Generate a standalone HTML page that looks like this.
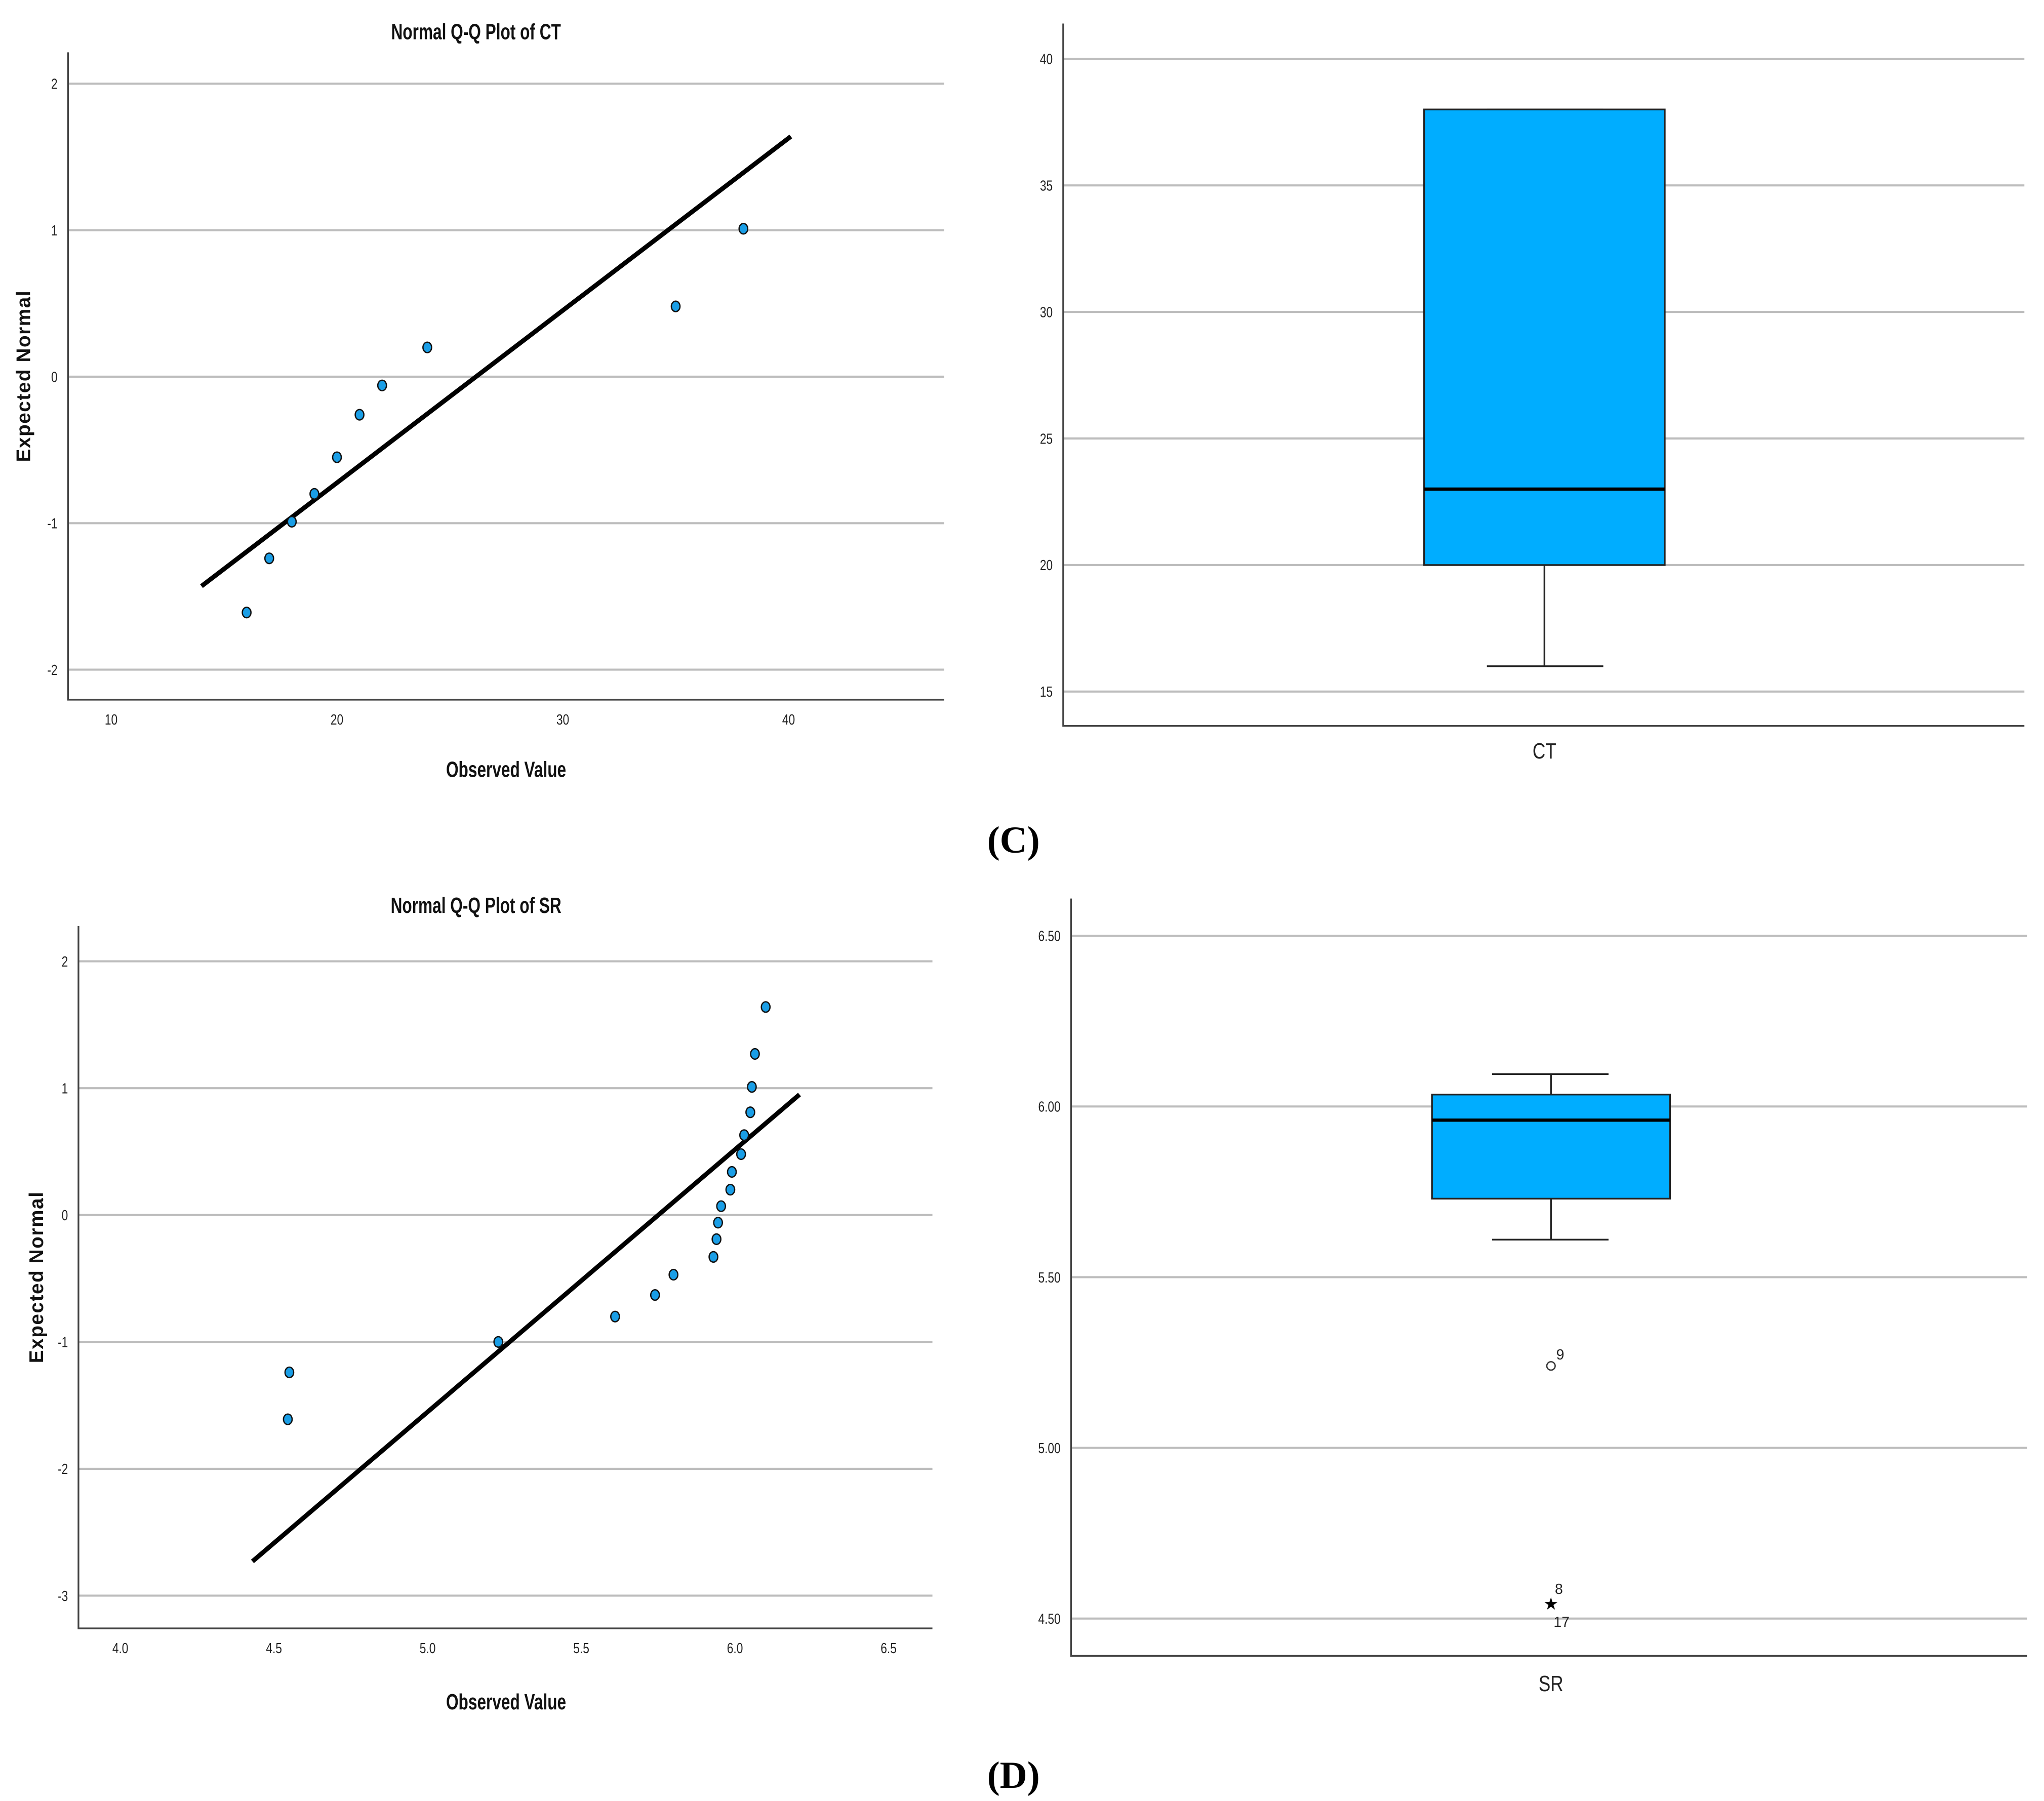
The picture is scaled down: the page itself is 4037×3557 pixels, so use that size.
<!DOCTYPE html>
<html><head><meta charset="utf-8"><style>
html,body{margin:0;padding:0;background:#fff;}
svg{display:block;}
</style></head><body>
<svg id="s" width="4037" height="3557" viewBox="0 0 1563 1377" preserveAspectRatio="none" xmlns="http://www.w3.org/2000/svg" font-family="Liberation Sans, sans-serif">
<rect width="1563" height="1377" fill="#fff"/>
</svg>
<script>
// ---- data ----
const ctObs = [16,17,18,19,20,21,22,24,35,38];
const ctExp = [-1.61,-1.24,-0.99,-0.80,-0.55,-0.26,-0.06,0.20,0.48,1.01];
const ctLineX = [14,40.1];
const ctLineY = [-1.43,1.64];
const ctXTicks = [10,20,30,40];
const ctYTicks = [2,1,0,-1,-2];
const srObs = [4.55,4.545,5.23,5.61,5.74,5.80,5.93,5.94,5.945,5.955,5.985,5.99,6.02,6.03,6.05,6.055,6.065,6.10];
const srExp = [-1.24,-1.61,-1.00,-0.80,-0.63,-0.47,-0.33,-0.19,-0.06,0.07,0.20,0.34,0.48,0.63,0.81,1.01,1.27,1.64];
const srLineX = [4.43,6.21];
const srLineY = [-2.73,0.95];
const srXTicks = ["4.0","4.5","5.0","5.5","6.0","6.5"];
const srYTicks = [2,1,0,-1,-2,-3];
const ctBox = [16,20,23,38,38]; // min,q1,median,q3,max
const ctBoxTicks = [40,35,30,25,20,15];
const srBox = [5.61,5.73,5.96,6.035,6.095];
const srBoxTicks = ["6.50","6.00","5.50","5.00","4.50"];
const srOutlier = [5.24];
const srOutlierLabel = ["9"];
const srExtreme = [4.545];
const srExtremeLabel = ["8","17"];

const S = document.getElementById('s');
const NS = 'http://www.w3.org/2000/svg';
function mk(tag, attrs, txt){const e=document.createElementNS(NS,tag);for(const k in attrs)e.setAttribute(k,attrs[k]);if(txt!==undefined)e.textContent=txt;S.appendChild(e);return e;}
function lin(d0,d1,r0,r1){return v=>r0+(v-d0)*(r1-r0)/(d1-d0);}

function qq(cfg){
  const {xs,ys,L,R,T,B,obs,exp,lx,ly,xt,yt,title,titleY,xlabY,ylabX,pre} = cfg;
  for(const t of yt){
    const y=ys(+t);
    const g=mk('line',{x1:L,x2:R,y1:y,y2:y,stroke:'#bdbdbd','stroke-width':1.6});
     
    const tl=mk('text',{x:L-8,y:y+4,'font-size':11,'text-anchor':'end',fill:'#222',transform:`translate(${L-8},0) scale(0.8,1) translate(${-(L-8)},0)`},t);
     
  }
  for(const t of xt){
    const x=xs(+t);
    const tl=mk('text',{x:x,y:B+19,'font-size':11,'text-anchor':'middle',fill:'#222',transform:`translate(${x},0) scale(0.8,1) translate(${-x},0)`},t);
     
  }
  const ax=mk('polyline',{points:`${L},${T} ${L},${B} ${R},${B}`,fill:'none',stroke:'#444','stroke-width':1.3});
   
  const ln=mk('line',{x1:xs(lx[0]),y1:ys(ly[0]),x2:xs(lx[1]),y2:ys(ly[1]),stroke:'#000','stroke-width':3.5});
   
  for(let i=0;i<obs.length;i++){
    const c=mk('ellipse',{cx:xs(obs[i]),cy:ys(exp[i]),rx:3.3,ry:4,fill:'#1a9ee6',stroke:'#111','stroke-width':1});
     
  }
  const tt=mk('text',{x:364,y:titleY,'font-size':17,'font-weight':'bold','text-anchor':'middle',fill:'#111',transform:`translate(364,0) scale(0.72,1) translate(-364,0)`},title);
   
  const xl=mk('text',{x:387,y:xlabY,'font-size':17,'font-weight':'bold','text-anchor':'middle',fill:'#111',transform:`translate(387,0) scale(0.72,1) translate(-387,0)`},'Observed Value');
   
  const my=(T+B)/2;
  const yl=mk('text',{x:ylabX,y:my,'font-size':15,'font-weight':'bold','text-anchor':'middle',fill:'#111','letter-spacing':'0.6',transform:`rotate(-90 ${ylabX} ${my})`},'Expected Normal');
   
}

qq({pre:'ct-qq',L:52,R:722,T:40,B:535,xs:lin(10,40,85,603),ys:lin(0,1,288,176),obs:ctObs,exp:ctExp,lx:ctLineX,ly:ctLineY,xt:ctXTicks,yt:ctYTicks,title:'Normal Q-Q Plot of CT',titleY:30,xlabY:594,ylabX:23});
qq({pre:'sr-qq',L:60,R:713,T:708,B:1245,xs:lin(4,6,92,562),ys:lin(0,1,929,832),obs:srObs,exp:srExp,lx:srLineX,ly:srLineY,xt:srXTicks,yt:srYTicks,title:'Normal Q-Q Plot of SR',titleY:698,xlabY:1307,ylabX:33});

function box(cfg){
  const {pre,L,R,T,B,ys,ticks,b,bx0,bx1,cap0,cap1,label,labelY}=cfg;
  for(const t of ticks){
    const y=ys(+t);
    const g=mk('line',{x1:L,x2:R,y1:y,y2:y,stroke:'#bdbdbd','stroke-width':1.6});
     
    const tl=mk('text',{x:L-8,y:y+4,'font-size':11,'text-anchor':'end',fill:'#222',transform:`translate(${L-8},0) scale(0.8,1) translate(${-(L-8)},0)`},t);
     
  }
  const ax=mk('polyline',{points:`${L},${T} ${L},${B} ${R},${B}`,fill:'none',stroke:'#444','stroke-width':1.3});
   
  const cx=(bx0+bx1)/2;
  const w1=mk('line',{x1:cx,x2:cx,y1:ys(b[0]),y2:ys(b[1]),stroke:'#222','stroke-width':1.3});
   
  const w2=mk('line',{x1:cx,x2:cx,y1:ys(b[3]),y2:ys(b[4]),stroke:'#222','stroke-width':1.3});
   
  const c1=mk('line',{x1:cap0,x2:cap1,y1:ys(b[0]),y2:ys(b[0]),stroke:'#222','stroke-width':1.3});
   
  const c2=mk('line',{x1:cap0,x2:cap1,y1:ys(b[4]),y2:ys(b[4]),stroke:'#222','stroke-width':1.3});
   
  const r=mk('rect',{x:bx0,y:ys(b[3]),width:bx1-bx0,height:ys(b[1])-ys(b[3]),fill:'#00adff',stroke:'#222','stroke-width':1.3});
   
  const m=mk('line',{x1:bx0,x2:bx1,y1:ys(b[2]),y2:ys(b[2]),stroke:'#000','stroke-width':2.5});
   
  const lb=mk('text',{x:cx,y:labelY,'font-size':17,'text-anchor':'middle',fill:'#222',transform:`translate(${cx},0) scale(0.8,1) translate(${-cx},0)`},label);
   
  return cx;
}
box({pre:'ct-box',L:813,R:1548,T:18,B:555,ys:lin(20,40,432,45),ticks:ctBoxTicks,b:ctBox,bx0:1089,bx1:1273,cap0:1137,cap1:1226,label:'CT',labelY:580});
const srY=lin(5,6,1107,846);
const srCx=box({pre:'sr-box',L:819,R:1550,T:687,B:1266,ys:srY,ticks:srBoxTicks,b:srBox,bx0:1095,bx1:1277,cap0:1141,cap1:1230,label:'SR',labelY:1293});
for(let i=0;i<srOutlier.length;i++){
  const y=srY(srOutlier[i]);
  const o=mk('circle',{cx:srCx,cy:y,r:3.2,fill:'none',stroke:'#333','stroke-width':1});
   
  const t=mk('text',{x:srCx+4,y:y-5,'font-size':11,fill:'#222'},srOutlierLabel[i]);
   
}
for(let i=0;i<srExtreme.length;i++){
  const y=srY(srExtreme[i]);
  const st=mk('text',{x:srCx,y:y+5,'font-size':13,'text-anchor':'middle',fill:'#000'},'★');
   
  const t1=mk('text',{x:srCx+3,y:y-7,'font-size':11,fill:'#222'},srExtremeLabel[0]);
   
  const t2=mk('text',{x:srCx+2,y:y+18,'font-size':11,fill:'#222'},srExtremeLabel[1]);
   
}
const pc=mk('text',{x:775,y:652,'font-size':29,'font-weight':'bold','text-anchor':'middle',fill:'#000',style:'font-family:"Liberation Serif",serif'},'(C)');
 
const pd=mk('text',{x:775,y:1367,'font-size':29,'font-weight':'bold','text-anchor':'middle',fill:'#000',style:'font-family:"Liberation Serif",serif'},'(D)');
 
</script>
</body></html>
